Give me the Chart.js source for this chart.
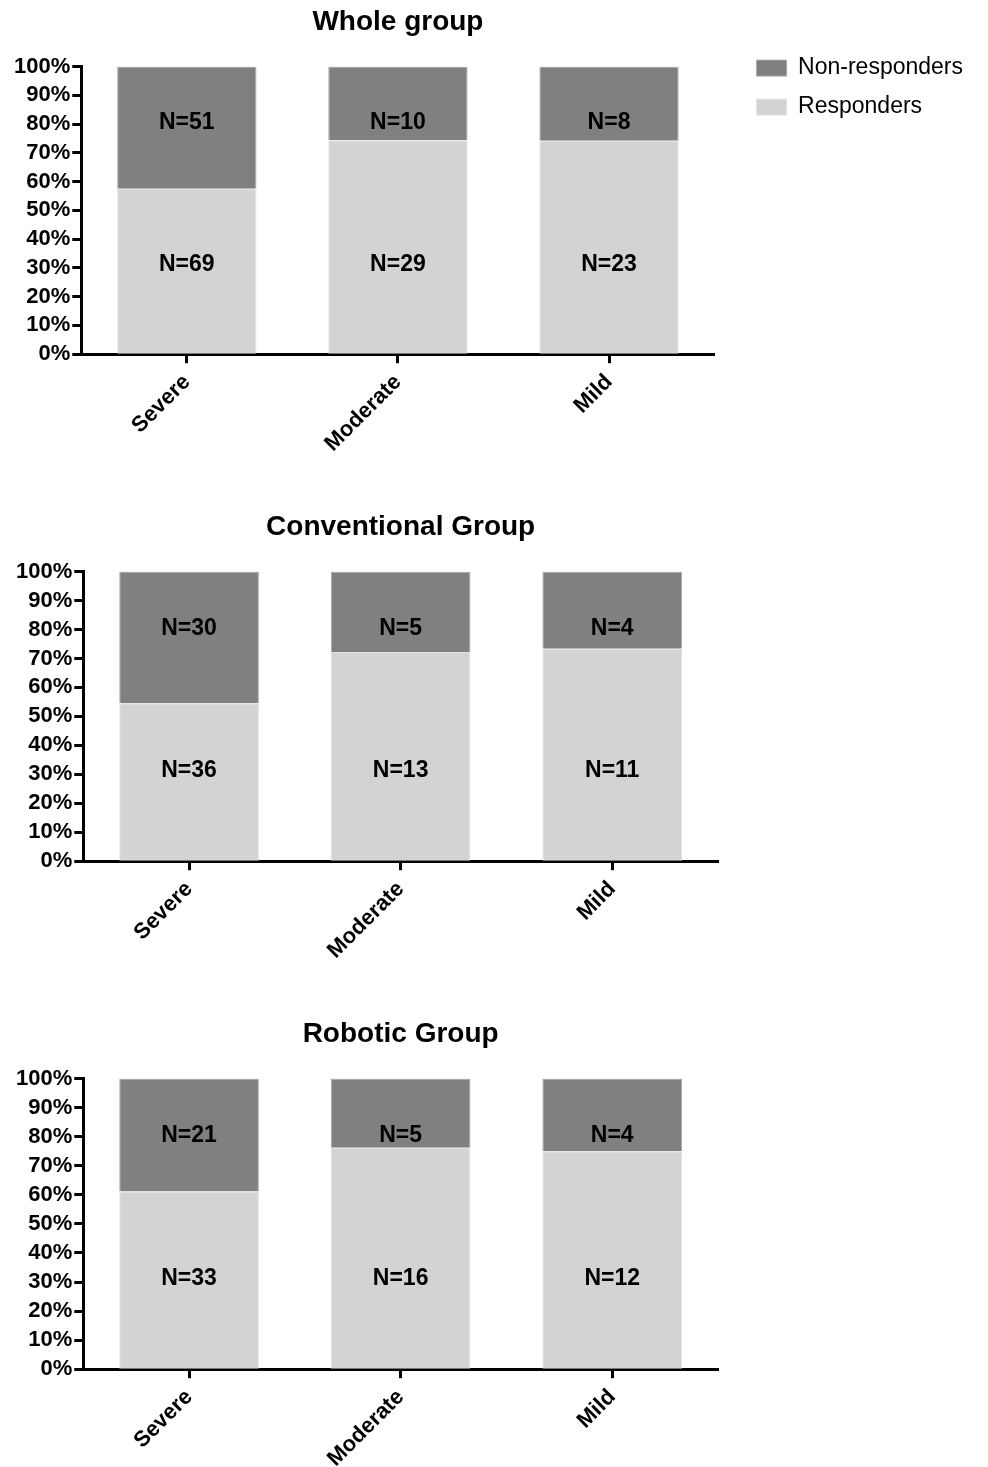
<!DOCTYPE html>
<html>
<head>
<meta charset="utf-8">
<script src="https://cdn.jsdelivr.net/npm/chart.js@4.4.1/dist/chart.umd.min.js"></script>
<style>
  body { margin: 0; background: #fff; width: 988px; height: 1467px; overflow: hidden; position: relative; }
  .box { position: absolute; left: 0; height: 474px; }
</style>
</head>
<body>
<div class="box" style="top:0;width:988px"><canvas id="chartWhole"></canvas></div>
<div class="box" style="top:505px;width:740px"><canvas id="chartConv"></canvas></div>
<div class="box" style="top:1012px;width:740px"><canvas id="chartRobot"></canvas></div>
<script>
const categories = ['Severe', 'Moderate', 'Mild'];
const titles = ['Whole group', 'Conventional Group', 'Robotic Group'];

// counts per group
const wholeResponders = [69, 29, 23];
const wholeNonResponders = [51, 10, 8];
const convResponders = [36, 13, 11];
const convNonResponders = [30, 5, 4];
const robotResponders = [33, 16, 12];
const robotNonResponders = [21, 5, 4];

const yTicks = [0, 10, 20, 30, 40, 50, 60, 70, 80, 90, 100];

const FONT = "'Liberation Sans', Arial, sans-serif";

// "N=" labels sit at fixed heights in each segment
const countLabels = {
    id: 'countLabels',
    afterDatasetsDraw(chart, args, opts) {
        const { ctx, scales: { x, y } } = chart;
        ctx.save();
        ctx.font = 'bold 23px ' + FONT;
        ctx.fillStyle = '#000';
        ctx.textAlign = 'center';
        ctx.textBaseline = 'middle';
        categories.forEach((c, i) => {
            const cx = x.getPixelForValue(i);
            ctx.fillText('N=' + opts.nonResp[i], cx, y.getPixelForValue(80.4));
            ctx.fillText('N=' + opts.resp[i], cx, y.getPixelForValue(31.2));
        });
        ctx.restore();
    }
};

// nudge the legend a bit away from the plot, level with its top
const legendShift = {
    id: 'legendShift',
    afterLayout(chart) {
        const lg = chart.legend;
        if (!lg || !lg.options.display) return;
        lg.left = chart.chartArea.right + 26;
        lg.right = chart.width;
        lg.width = lg.right - lg.left;
        lg.top = chart.chartArea.top - 26;
    }
};

function makeChart(id, title, resp, nonResp, showLegend, pad) {
    const total = resp.map((r, i) => r + nonResp[i]);
    const respPct = resp.map((r, i) => r / total[i] * 100);
    const nonPct = nonResp.map((n, i) => n / total[i] * 100);

    return new Chart(document.getElementById(id), {
        type: 'bar',
        data: {
            labels: categories,
            datasets: [
                { label: 'Responders', data: respPct, backgroundColor: '#d3d3d3', borderColor: '#e2e2e2', borderWidth: 1, barPercentage: 0.66, categoryPercentage: 1 },
                { label: 'Non-responders', data: nonPct, backgroundColor: '#808080', borderColor: '#a8a8a8', borderWidth: 1, barPercentage: 0.66, categoryPercentage: 1 }
            ]
        },
        options: {
            responsive: true,
            maintainAspectRatio: false,
            animation: false,
            layout: { padding: pad },
            plugins: {
                title: {
                    display: true, text: title, fullSize: false,
                    color: '#000', font: { family: FONT, size: 28, weight: 'bold' },
                    padding: { top: 5, bottom: 28 }
                },
                legend: {
                    display: showLegend, position: 'right', align: 'start', reverse: true,
                    labels: {
                        boxWidth: 30, boxHeight: 16, padding: 16,
                        color: '#000', font: { family: FONT, size: 23 }
                    }
                },
                tooltip: { enabled: false },
                countLabels: { resp, nonResp }
            },
            scales: {
                x: {
                    stacked: true,
                    grid: { display: true, drawOnChartArea: false, offset: false, tickLength: 9, tickWidth: 3, tickColor: '#000' },
                    border: { display: true, color: '#000', width: 3 },
                    ticks: { color: '#000', font: { family: FONT, size: 22, weight: 'bold' }, minRotation: 45, maxRotation: 45, padding: 6 }
                },
                y: {
                    stacked: true, min: 0, max: 100,
                    afterBuildTicks: (s) => { s.ticks = yTicks.map(v => ({ value: v })); },
                    grid: { display: true, drawOnChartArea: false, tickLength: 9, tickWidth: 3, tickColor: '#000' },
                    border: { display: true, color: '#000', width: 3 },
                    ticks: { autoSkip: false, color: '#000', font: { family: FONT, size: 22, weight: 'bold' }, padding: 2, callback: v => v + '%' }
                }
            }
        },
        plugins: [countLabels, legendShift]
    });
}

makeChart('chartWhole', titles[0], wholeResponders, wholeNonResponders, true, { left: 12, right: 41, top: 0, bottom: 11 });
makeChart('chartConv', titles[1], convResponders, convNonResponders, false, { left: 14, right: 22, top: 0, bottom: 9 });
makeChart('chartRobot', titles[2], robotResponders, robotNonResponders, false, { left: 14, right: 22, top: 0, bottom: 8 });
</script>
</body>
</html>
